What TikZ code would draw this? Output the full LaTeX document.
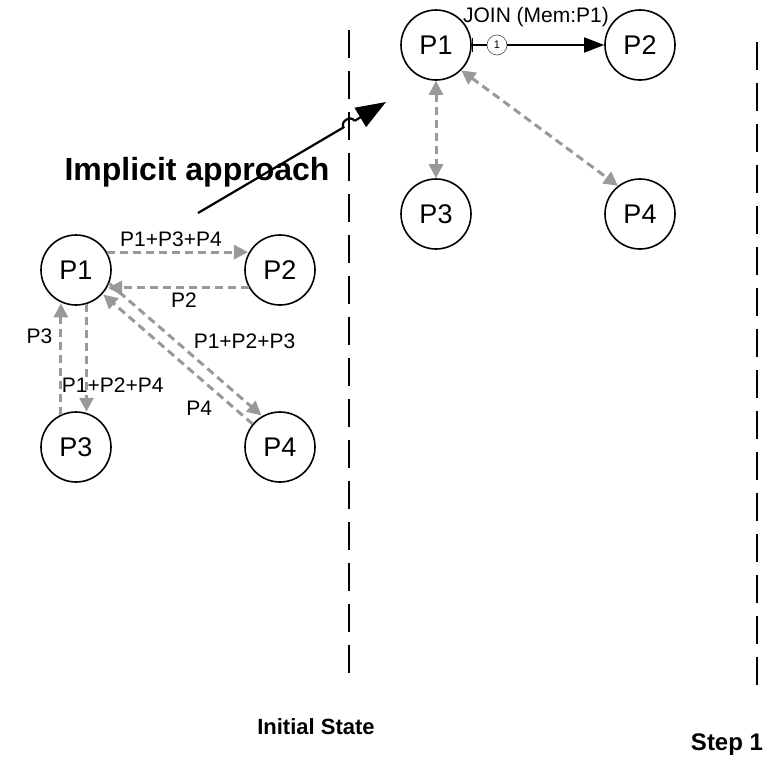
\documentclass[tikz,border=0pt]{standalone}
\usepackage{fontspec}
\setmainfont{Liberation Sans}
\usetikzlibrary{arrows.meta}
\begin{document}
\begin{tikzpicture}[x=1pt,y=-1pt,
  proc/.style={circle,draw=black,line width=1.6pt,minimum size=70pt,inner sep=0pt,font=\fontsize{27}{27}\selectfont},
  garrow/.style={draw=black!40,line width=3pt,dash pattern=on 8pt off 5pt,-{Triangle[length=14pt,width=14pt]},shorten >=1pt},
  gdouble/.style={draw=black!40,line width=3pt,dash pattern=on 8pt off 5pt,{Triangle[length=14pt,width=14pt]}-{Triangle[length=14pt,width=14pt]}},
  lbl/.style={font=\fontsize{21}{21}\selectfont,inner sep=1pt},
  sep/.style={line width=1.6pt,dash pattern=on 28pt off 13pt},
  bigl/.style={font=\bfseries\fontsize{22}{22}\selectfont}]
\useasboundingbox (0,0) rectangle (774,761);
% separators
\coordinate (s1a) at (349,30); \coordinate (s1b) at (349,676);
\coordinate (s2a) at (757,42); \coordinate (s2b) at (757,690);
\draw[sep] (s1a) -- (s1b);
\draw[sep] (s2a) -- (s2b);
% left group
\node[proc] (a1) at (76,270) {P1};
\node[proc] (a2) at (280,270) {P2};
\node[proc] (a3) at (76,447) {P3};
\node[proc] (a4) at (280,447) {P4};
\draw[garrow] (a1.30) -- (a2.150) node[lbl,midway,above=3pt,xshift=-7pt] {P1+P3+P4};
\draw[garrow] (a2.-150) -- (a1.-30) node[lbl,midway,below=2pt,xshift=6pt] {P2};
\draw[garrow] (a1.-73) -- (a3.73) node[lbl,pos=0.75,anchor=west,xshift=-27pt] {P1+P2+P4};
\draw[garrow] (a3.115) -- (a1.-115) node[lbl,pos=0.7,left=6pt] {P3};
\draw[garrow] (a1.-22) -- (a4.120) node[lbl,pos=0.55,anchor=south west,xshift=-2pt,yshift=5pt] {P1+P2+P3};
\draw[garrow] (a4.140) -- (a1.-42) node[lbl,pos=0.12,left=20pt] {P4};
% top group
\node[proc] (b1) at (436,45) {P1};
\node[proc] (b2) at (640,45) {P2};
\node[proc] (b3) at (436,214) {P3};
\node[proc] (b4) at (640,214) {P4};
\node[circle,draw=black!70,line width=0.6pt,minimum size=20pt,inner sep=0pt,font=\fontsize{11}{11}\selectfont] (j1) at (497,45) {1};
\draw[line width=1.6pt,{Bar[width=14pt]}-] (b1.east) -- (j1.west);
\draw[line width=1.6pt,-{Triangle[length=20pt,width=15pt]}] (j1.east) -- (b2.west);
\node[font=\fontsize{21}{21}\selectfont] (jl) at (536,17) {JOIN (Mem:P1)};
\draw[gdouble] (b1.south) -- (b3.north);
\draw[gdouble] (b1.-45) -- (b4.128);
% implicit approach
\coordinate (ia) at (198,213);
\coordinate (ib) at (386,102);
\coordinate (ic1) at (343.5,127.4);
\coordinate (ic2) at (354.5,120.9);
\draw[line width=2.2pt] (ia) -- (ic1) .. controls (339.9,121.4) and (350.9,114.9) .. (ic2);
\draw[line width=2.2pt,-{Triangle[length=30pt,width=22pt]}] (ic2) -- (ib);
\node[font=\bfseries\fontsize{32}{32}\selectfont] (impl) at (197,172) {Implicit approach};
% bottom labels
\node[bigl] (init) at (316,727) {Initial State};
\node[font=\bfseries\fontsize{24}{24}\selectfont] (step) at (727,745) {Step 1};
\end{tikzpicture}
\end{document}
